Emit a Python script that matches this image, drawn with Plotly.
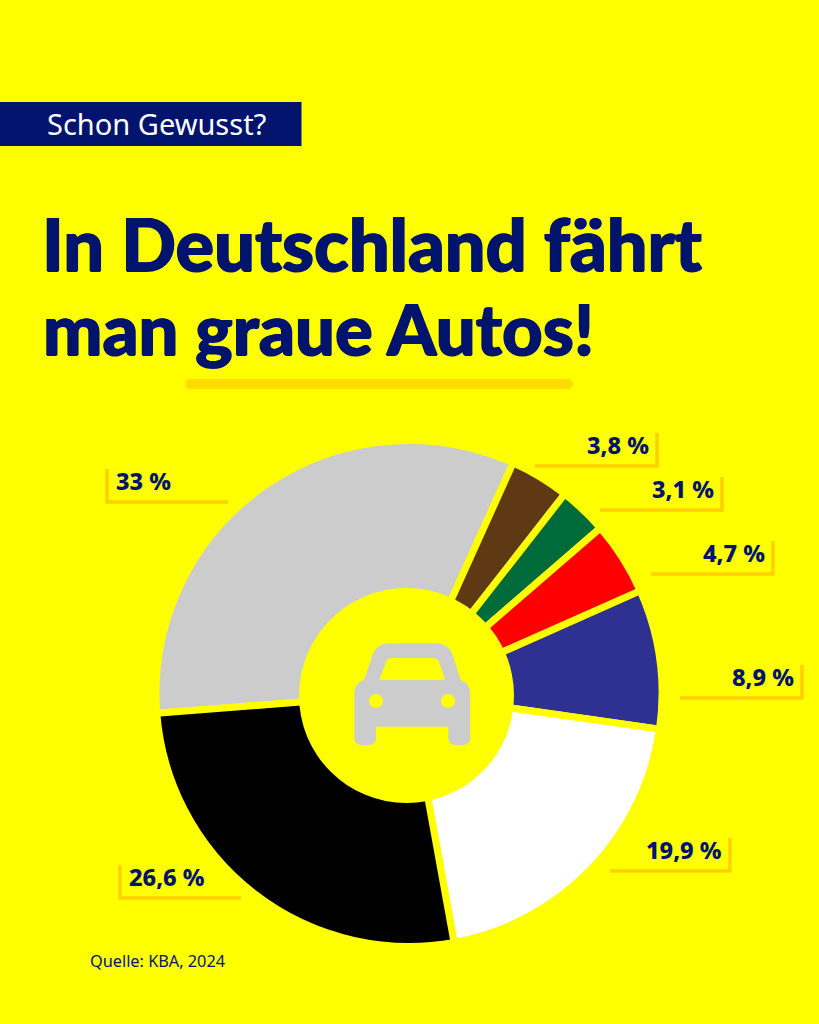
import plotly.graph_objects as go

W = 819
H = 1024

# Pkw-Farben laut KBA
farben = ["Grau", "Braun", "Grün", "Rot", "Blau", "Weiß", "Schwarz"]
anteile = [33, 3.8, 3.1, 4.7, 8.9, 19.9, 26.6]
farb_codes = ["#CCCCCC", "#5F3914", "#006B3A", "#FF0000", "#2E3192", "#FFFFFF", "#000000"]
beschriftung = ["33 %", "3,8 %", "3,1 %", "4,7 %", "8,9 %", "19,9 %", "26,6 %"]

GELB = "#FFFF00"
NAVY = "#00146E"
GOLD = "#FFD000"
FONT = "Noto Sans"
TITEL_FONT = "Lato"
TITEL_SCHATTEN = f"0.8px 0 {NAVY}, -0.8px 0 {NAVY}, 0 0.5px {NAVY}"


def px(x):
    return x / W


def py(y):
    return 1 - y / H


def pfad(*teile):
    # Pfad in Pixeln -> Papierkoordinaten
    s = ""
    for cmd, *pts in teile:
        s += cmd
        for x, y in pts:
            s += f" {px(x):.5f},{py(y):.5f} "
    return s + ("Z" if teile else "")


def auto_pt(zx, zy):
    # Koordinaten des Auto-Symbols
    return (300 + zx / 3, 590 + zy / 3)


fig = go.Figure()

cx, cy, r = 409, 693.5, 253
fig.add_trace(go.Pie(
    labels=farben, values=anteile, sort=False, direction="clockwise",
    rotation=265.5, hole=0.38, textinfo="none", showlegend=False,
    marker=dict(colors=farb_codes, line=dict(color=GELB, width=7)),
    domain=dict(x=[px(cx - r), px(cx + r)], y=[py(cy + r), py(cy - r)]),
))

shapes = []
annotations = []

# Banner
shapes.append(dict(type="rect", xref="paper", yref="paper", x0=0, x1=px(301.5), y0=py(146), y1=py(102),
                   fillcolor=NAVY, line_width=0, layer="below"))
annotations.append(dict(x=px(45), y=py(123), text="Schon Gewusst?", xanchor="left", yanchor="middle",
                        font=dict(family=FONT, size=29, color="white")))

# Titel
annotations.append(dict(x=px(40), y=py(243), text="In Deutschland fährt", xanchor="left", yanchor="middle",
                        font=dict(family=TITEL_FONT, size=72, color=NAVY, weight=900, shadow=TITEL_SCHATTEN)))
annotations.append(dict(x=px(41), y=py(327), text="man graue Autos!", xanchor="left", yanchor="middle",
                        font=dict(family=TITEL_FONT, size=70.5, color=NAVY, weight=900, shadow=TITEL_SCHATTEN)))

# Unterstreichung
shapes.append(dict(type="path", xref="paper", yref="paper", line_width=0, fillcolor="#FFDD00", path=pfad(
    ("M", (190, 379)), ("L", (568, 379)), ("Q", (573, 379), (573, 384)), ("Q", (573, 389), (568, 389)),
    ("L", (190, 389)), ("Q", (185, 389), (185, 384)), ("Q", (185, 379), (190, 379)))))

# Beschriftungen mit Winkeln: (Index, Ecke x, Linie y, Länge, links?)
winkel = [
    (0, 107, 502, 121, True),
    (1, 657, 466, 122, False),
    (2, 722, 510, 122, False),
    (3, 773, 574, 122, False),
    (4, 802, 698, 122, False),
    (5, 730, 871, 120, False),
    (6, 120, 898, 121, True),
]
for i, ex, ey, laenge, links in winkel:
    x_ende = ex + laenge if links else ex - laenge
    shapes.append(dict(type="path", xref="paper", yref="paper", line=dict(color=GOLD, width=3.5),
                       path=f"M {px(ex):.5f},{py(ey - 33):.5f} L {px(ex):.5f},{py(ey):.5f} L {px(x_ende):.5f},{py(ey):.5f}"))
    annotations.append(dict(
        x=px(ex + 7) if links else px(ex - 6), y=py(ey - 21),
        text=beschriftung[i], xanchor="left" if links else "right", yanchor="middle",
        font=dict(family=FONT, size=23.5, color=NAVY, weight=800)))

# Mittelkreis, sitzt im Original leicht versetzt
shapes.append(dict(type="circle", xref="paper", yref="paper", line_width=0, fillcolor=GELB,
                   x0=px(406.5 - 107.5), x1=px(406.5 + 107.5), y0=py(695.5 + 107.5), y1=py(695.5 - 107.5)))

# Auto-Symbol
a = auto_pt
shapes.append(dict(type="path", xref="paper", yref="paper", line_width=0, fillcolor="#CCCCCC", path=pfad(
    ("M", a(163, 310)), ("Q", a(163, 280), a(192, 270)), ("L", a(218, 195)), ("Q", a(230, 160), a(268, 160)),
    ("L", a(405, 160)), ("Q", a(445, 160), a(458, 195)), ("L", a(482, 270)), ("Q", a(510, 280), a(510, 310)),
    ("L", a(510, 443)), ("Q", a(510, 465), a(488, 465)), ("L", a(467, 465)), ("Q", a(445, 465), a(445, 443)),
    ("L", a(445, 410)), ("L", a(228, 410)), ("L", a(228, 443)), ("Q", a(228, 465), a(206, 465)),
    ("L", a(185, 465)), ("Q", a(163, 465), a(163, 443)))))
shapes.append(dict(type="path", xref="paper", yref="paper", line_width=0, fillcolor=GELB, path=pfad(
    ("M", a(238, 269)), ("L", a(258, 215)), ("Q", a(262, 204), a(275, 204)), ("L", a(400, 204)),
    ("Q", a(413, 204), a(417, 215)), ("L", a(435, 269)))))
for zx in (228, 444):
    x, y = a(zx, 333)
    shapes.append(dict(type="circle", xref="paper", yref="paper", line_width=0, fillcolor=GELB,
                       x0=px(x - 7), x1=px(x + 7), y0=py(y + 7), y1=py(y - 7)))

# Quelle
annotations.append(dict(x=px(88), y=py(961), text="Quelle: KBA, 2024", xanchor="left", yanchor="middle",
                        font=dict(family=FONT, size=16.3, color=NAVY, weight=400)))

for an in annotations:
    an.update(xref="paper", yref="paper", showarrow=False)

fig.update_layout(
    width=W, height=H, margin=dict(l=0, r=0, t=0, b=0),
    paper_bgcolor=GELB, plot_bgcolor=GELB,
    shapes=shapes, annotations=annotations,
)
# Standardrand der Seite entfernen
fig.write_html("out.html", config={"displayModeBar": False},
               post_script="document.body.style.margin='0';document.body.style.overflow='hidden';")
